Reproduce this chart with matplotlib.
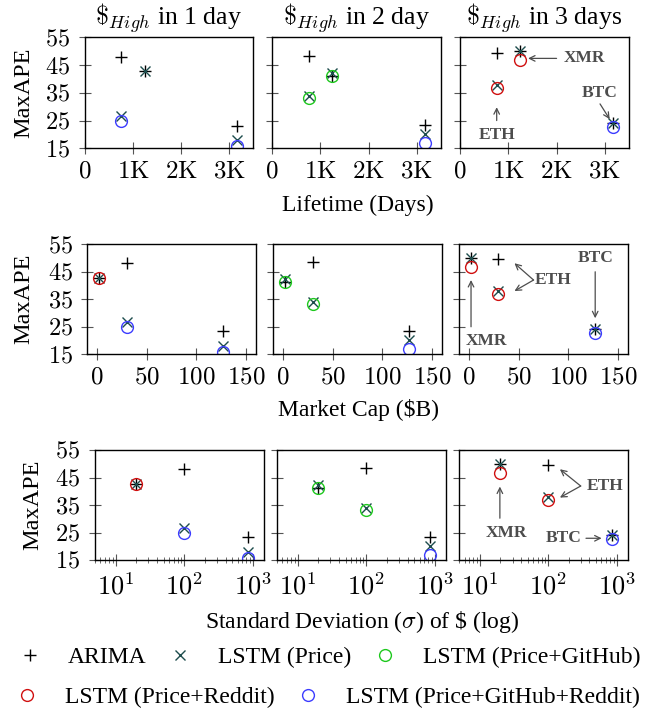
import numpy as np
import matplotlib
matplotlib.use('Agg')
import matplotlib.pyplot as plt
from matplotlib.ticker import FixedLocator, FuncFormatter, LogLocator, NullFormatter

plt.rcParams['font.family'] = ['Liberation Serif', 'DejaVu Serif']
plt.rcParams['mathtext.fontset'] = 'cm'

nan = np.nan

# coins, in this order everywhere below
coins = ['ETH', 'XMR', 'BTC']
lifetime_days = [760, 1240, 3170]
market_cap_b = [29.7, 2.1, 127]
std_dev = [100, 19.6, 850]

horizons = ['1 day', '2 day', '3 days']

# MaxAPE per model and horizon (nan = not drawn)
arima_1d = [48.0, 42.8, 23.2]
arima_2d = [48.3, 41.1, 23.3]
arima_3d = [49.5, 50.0, 24.0]

price_1d = [26.8, 42.8, 18.0]
price_2d = [33.8, 42.3, 20.0]
price_3d = [37.8, 50.0, 24.0]

github_1d = [nan, nan, nan]
github_2d = [33.1, 41.1, nan]
github_3d = [nan, nan, nan]

reddit_1d = [nan, 42.8, nan]
reddit_2d = [nan, nan, nan]
reddit_3d = [36.7, 46.8, nan]

both_1d = [24.8, nan, 15.8]
both_2d = [nan, nan, 17.0]
both_3d = [nan, nan, 22.7]

model_names = ['ARIMA', 'LSTM (Price)', 'LSTM (Price+GitHub)',
               'LSTM (Price+Reddit)', 'LSTM (Price+GitHub+Reddit)']
series = [
    [arima_1d, arima_2d, arima_3d],
    [price_1d, price_2d, price_3d],
    [github_1d, github_2d, github_3d],
    [reddit_1d, reddit_2d, reddit_3d],
    [both_1d, both_2d, both_3d],
]
styles = [
    dict(marker='+', color='black', markersize=9, mew=1.0),
    dict(marker='x', color='#1d4d4d', markersize=6.5, mew=1.0),
    dict(marker='o', color='#1ec81e', markersize=8.5, mew=1.0, mfc='none'),
    dict(marker='o', color='#d01010', markersize=8.5, mew=1.0, mfc='none'),
    dict(marker='o', color='#3c3cff', markersize=8.5, mew=1.0, mfc='none'),
]

W, H = 647, 713
fig = plt.figure(figsize=(W / 100, H / 100), dpi=100)

def px_axes(l, r, t, b):
    return fig.add_axes([l / W, 1 - b / H, (r - l) / W, (b - t) / H])

rows_y = [(37.3, 148.3), (244, 354), (450, 560)]
rows_x = [
    [(85, 253), (272, 441), (460, 629)],
    [(87.3, 256), (273.3, 442), (459, 628)],
    [(95, 264), (277, 446), (459.3, 627.7)],
]
xvals = [lifetime_days, market_cap_b, std_dev]

tick_kw = dict(direction='inout', color='#555555')
ann_color = '#4d4d4d'

num_fmt = FuncFormatter(lambda v, p: r'$%d$' % v)
k_fmt = FuncFormatter(lambda v, p: r'$%d$' % v if v == 0 else r'$%d\mathrm{K}$' % (v / 1000))
log_fmt = FuncFormatter(lambda v, p: r'$10^{%d}$' % round(np.log10(v)))

handles = []
axes = []
for r in range(3):
    row_axes = []
    for c in range(3):
        (l, rr), (t, b) = rows_x[r][c], rows_y[r]
        ax = px_axes(l, rr, t, b)
        for m in range(5):
            ys = list(series[m][c])
            if r == 0 and m == 3 and c == 0:
                ys = [nan, nan, nan]  # not shown in the lifetime panel
            h, = ax.plot(xvals[r], ys, linestyle='none', **styles[m])
            if r == 0 and c == 0:
                handles.append(h)
        ax.set_ylim(15, 55)
        ax.set_yticks([15, 25, 35, 45, 55])
        ax.yaxis.set_major_formatter(num_fmt)
        if c > 0:
            ax.set_yticklabels([])
        xsize = 18
        if r == 0:
            ax.set_xlim(0, 3500)
            ax.set_xticks([0, 1000, 2000, 3000])
            ax.xaxis.set_major_formatter(k_fmt)
        elif r == 1:
            ax.set_xlim(-10, 160)
            ax.set_xticks([0, 50, 100, 150])
            ax.xaxis.set_major_formatter(num_fmt)
        else:
            xsize = 19
            ax.set_xscale('log')
            ax.set_xlim(5, 1450)
            ax.xaxis.set_major_locator(FixedLocator([10, 100, 1000]))
            ax.xaxis.set_major_formatter(log_fmt)
            ax.xaxis.set_minor_locator(LogLocator(base=10, subs=np.arange(2, 10)))
            ax.xaxis.set_minor_formatter(NullFormatter())
        ax.tick_params(axis='y', which='major', length=9, width=0.8, pad=6,
                       labelsize=17.5, **tick_kw)
        ax.tick_params(axis='x', which='major', length=8, width=0.8, pad=5,
                       labelsize=xsize, **tick_kw)
        ax.tick_params(axis='x', which='minor', length=5, width=0.6, **tick_kw)
        ax.tick_params(axis='y', which='minor', length=0)
        for s in ax.spines.values():
            s.set_linewidth(1.0)
        row_axes.append(ax)
    axes.append(row_axes)

# column titles
for c, hz in enumerate(horizons):
    l, rr = rows_x[0][c]
    fig.text((l + rr) / 2 / W, 1 - 18 / H, r'$\$_{High}$ in ' + hz,
             ha='center', va='center', fontsize=18.5)

# axis labels
fig.text(358 / W, 1 - 205 / H, 'Lifetime (Days)', ha='center', va='center', fontsize=17)
fig.text(358 / W, 1 - 410 / H, 'Market Cap ($B)', ha='center', va='center', fontsize=17)
fig.text(362 / W, 1 - 622 / H, r'Standard Deviation ($\sigma$) of \$ (log)',
         ha='center', va='center', fontsize=17)
for r, xc in zip(range(3), [24, 24, 33]):
    t, b = rows_y[r]
    fig.text(xc / W, 1 - (t + b) / 2 / H, 'MaxAPE', rotation=90,
             ha='center', va='center', fontsize=17.5)

def label(ax, text, pos, arrows):
    ax.text(pos[0], pos[1], text, ha='center', va='center', fontsize=12.5,
            fontweight='bold', color=ann_color)
    for tail, tip in arrows:
        ax.annotate('', xy=tip, xytext=tail,
                    arrowprops=dict(arrowstyle='->', color=ann_color, lw=0.9,
                                    shrinkA=0, shrinkB=0))

a = axes[0][2]
label(a, 'XMR', (2570, 47.4), [((2000, 47.4), (1410, 47.4))])
label(a, 'ETH', (760, 19.8), [((760, 25.0), (760, 29.8))])
label(a, 'BTC', (2900, 35.0), [((2900, 31.0), (3100, 25.5))])

a = axes[1][2]
label(a, 'XMR', (18, 19.8), [((2.1, 24.9), (2.1, 41.9))])
label(a, 'ETH', (85, 41.9), [((65, 41.9), (45.8, 48.0)), ((65, 41.9), (45.8, 37.9))])
label(a, 'BTC', (127, 49.8), [((127, 44.9), (127, 28.0))])

a = axes[2][2]
label(a, 'XMR', (24.6, 24.9), [((19.6, 30.2), (19.6, 41.7))])
label(a, 'ETH', (676, 41.9), [((298, 41.9), (148, 48.0)), ((298, 41.9), (148, 37.7))])
label(a, 'BTC', (170, 22.9), [((356, 22.9), (602, 22.9))])

leg_kw = dict(frameon=False, fontsize=17, borderpad=0, borderaxespad=0,
              handlelength=1.0, handletextpad=1.1, columnspacing=0.93,
              loc='center left')
fig.legend(handles[:3], model_names[:3], ncol=3,
           bbox_to_anchor=(18 / W, 1 - 657 / H), **leg_kw)
fig.legend(handles[3:], model_names[3:], ncol=2,
           bbox_to_anchor=(15 / W, 1 - 697 / H), **leg_kw)

fig.savefig('out.png', dpi=100)
